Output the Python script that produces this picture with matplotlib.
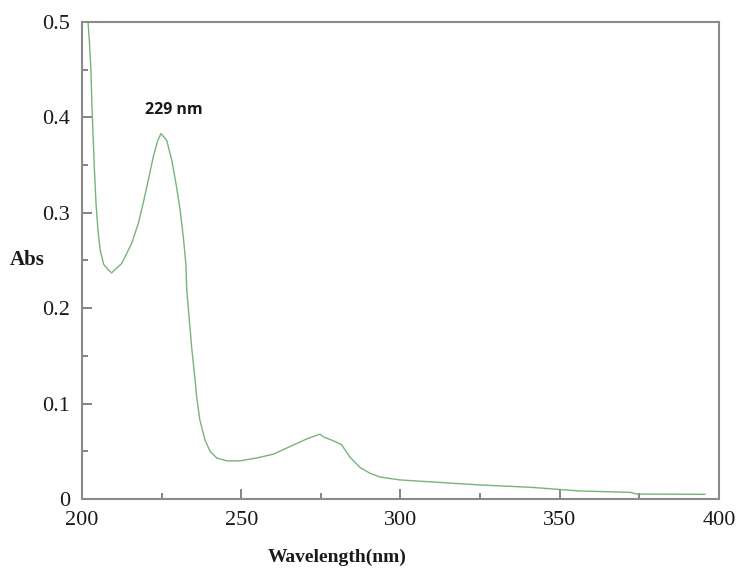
import matplotlib
matplotlib.use("Agg")
import matplotlib.pyplot as plt
from matplotlib.ticker import MultipleLocator

wavelength = [201.9, 202.3, 202.8, 203.1, 203.5, 203.9, 204.4, 205.0, 205.7, 206.8,
              208.3, 209.3, 212.5, 215.6, 217.7, 219.2, 220.8, 222.4, 223.8, 224.8,
              226.6, 228.2, 229.7, 230.8, 231.8, 232.6, 232.9, 234.4, 235.5, 236.0,
              237.0, 238.6, 240.2, 242.3, 245.4, 249.6, 254.9, 260.1, 265.3, 270.6,
              274.7, 275.8, 278.9, 281.5, 284.1, 287.3, 290.4, 293.6, 299.8, 309.3,
              325.0, 340.7, 356.4, 372.1, 374.2, 395.6]
absorbance = [0.500, 0.481, 0.450, 0.415, 0.379, 0.345, 0.310, 0.282, 0.261, 0.246,
              0.240, 0.237, 0.247, 0.268, 0.289, 0.310, 0.334, 0.359, 0.376, 0.383,
              0.376, 0.355, 0.327, 0.303, 0.275, 0.247, 0.219, 0.160, 0.125, 0.107,
              0.083, 0.062, 0.050, 0.043, 0.040, 0.040, 0.043, 0.047, 0.055, 0.063,
              0.068, 0.065, 0.061, 0.057, 0.044, 0.033, 0.027, 0.023, 0.020, 0.018,
              0.0147, 0.0123, 0.0084, 0.0070, 0.0052, 0.0049]

x_ticks = [200, 250, 300, 350, 400]
y_ticks = [0, 0.1, 0.2, 0.3, 0.4, 0.5]
y_tick_labels = ["0", "0.1", "0.2", "0.3", "0.4", "0.5"]
peak_label = "229 nm"

fig = plt.figure(figsize=(7.42, 5.71), dpi=100)
ax = fig.add_axes([0.1105, 0.1261, 0.8585, 0.8354])

ax.plot(wavelength, absorbance, color="#78b478", lw=1.0)

ax.set_xlim(200, 400)
ax.set_ylim(0, 0.5)
ax.set_xticks(x_ticks)
ax.set_yticks(y_ticks)
ax.set_yticklabels(y_tick_labels)
ax.xaxis.set_minor_locator(MultipleLocator(25))
ax.yaxis.set_minor_locator(MultipleLocator(0.05))

for s in ax.spines.values():
    s.set_color("#8a8a8a")
    s.set_linewidth(1.5)

ax.tick_params(which="major", direction="in", length=7, width=1.2, color="#707070",
               labelsize=16)
ax.tick_params(axis="y", which="major", pad=8.5)
ax.tick_params(axis="x", which="major", pad=9)
ax.tick_params(which="minor", direction="in", length=4, width=1.2, color="#707070")
for lab in ax.get_xticklabels() + ax.get_yticklabels():
    lab.set_fontfamily("Liberation Serif")
    lab.set_color("#1a1a1a")

fig.text(0.013, 0.545, "Abs", fontsize=15, fontfamily="Liberation Serif",
         color="#1a1a1a", ha="left", va="center", fontweight="bold")
fig.text(0.455, 0.024, "Wavelength(nm)", fontsize=14, fontfamily="Liberation Serif",
         color="#1a1a1a", ha="center", va="center", fontweight="bold")

ax.text(228.8, 0.399, peak_label, fontsize=11.5, fontfamily="Open Sans",
        fontweight="bold", color="#1a1a1a", ha="center", va="bottom")

fig.savefig("out.png", dpi=100)
